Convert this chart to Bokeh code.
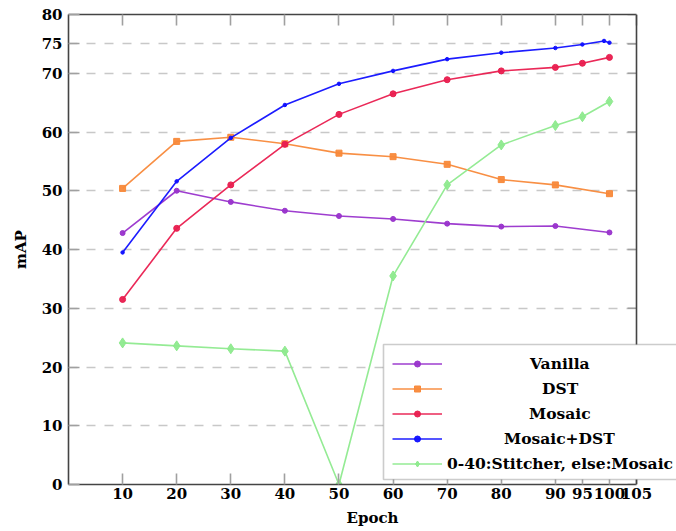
from bokeh.plotting import figure
from bokeh.models import (Range1d, FixedTicker, LinearAxis, Legend, LegendItem,
                          Span, BoxAnnotation, Title)
from bokeh.embed import file_html
from bokeh.resources import INLINE

# ---- data ----
vanilla_x = [10, 20, 30, 40, 50, 60, 70, 80, 90, 100]
vanilla_y = [42.8, 50.0, 48.1, 46.6, 45.7, 45.2, 44.4, 43.9, 44.0, 42.9]

dst_x = [10, 20, 30, 40, 50, 60, 70, 80, 90, 100]
dst_y = [50.4, 58.4, 59.1, 58.0, 56.4, 55.8, 54.5, 51.9, 51.0, 49.5]

mosaic_x = [10, 20, 30, 40, 50, 60, 70, 80, 90, 95, 100]
mosaic_y = [31.5, 43.6, 51.0, 57.9, 63.0, 66.5, 68.9, 70.4, 71.0, 71.7, 72.7]

mdst_x = [10, 20, 30, 40, 50, 60, 70, 80, 90, 95, 99, 100]
mdst_y = [39.5, 51.6, 59.0, 64.6, 68.2, 70.4, 72.4, 73.5, 74.3, 74.9, 75.5, 75.2]

stitch_x = [10, 20, 30, 40, 50, 60, 70, 80, 90, 95, 100]
stitch_y = [24.1, 23.6, 23.1, 22.7, 0.0, 35.5, 51.0, 57.8, 61.1, 62.6, 65.2]

x_ticks = [10, 20, 30, 40, 50, 60, 70, 80, 90, 95, 100, 105]
y_ticks = [0, 10, 20, 30, 40, 50, 60, 70, 75, 80]
X_MIN, X_MAX = 0, 105
Y_MIN, Y_MAX = 0, 80

# name, x, y, colour, marker, size, estimated label width (px)
series = [
    ("Vanilla", vanilla_x, vanilla_y, "#9933CC", "circle", 5, 60),
    ("DST", dst_x, dst_y, "#F8893A", "square", 6, 36),
    ("Mosaic", mosaic_x, mosaic_y, "#E91E4F", "circle", 6, 62),
    ("Mosaic+DST", mdst_x, mdst_y, "#1010FF", "circle", 3.5, 111),
    ("0-40:Stitcher, else:Mosaic", stitch_x, stitch_y, "#8EEA8E", "diamond", 10, 226),
]

FONT = "DejaVu Serif"
AXIS_COLOR = "#444444"
TICK_COLOR = "#a0a0a0"

# layout (pixels)
W, H = 676, 531
LEFT, TOP, BOTTOM = 68, 14, 47
AXIS_W = 568                    # pixel width of the 0..105 axis
FRAME_W = W - LEFT              # frame runs to the right edge (legend overhangs)
x_end = X_MAX * FRAME_W / AXIS_W
px_per_x = AXIS_W / (X_MAX - X_MIN)

p = figure(width=W, height=H, output_backend="svg", toolbar_location=None,
           x_range=Range1d(X_MIN, x_end), y_range=Range1d(Y_MIN, Y_MAX),
           min_border_left=LEFT, min_border_right=0, min_border_top=TOP,
           min_border_bottom=BOTTOM, outline_line_color=None)

p.xaxis.ticker = FixedTicker(ticks=x_ticks)
p.yaxis.ticker = FixedTicker(ticks=y_ticks)
p.xaxis.bounds = (X_MIN, X_MAX)
p.xgrid.visible = False
p.ygrid.ticker = FixedTicker(ticks=y_ticks)
p.ygrid.grid_line_color = "#c8c8c8"
p.ygrid.grid_line_width = 1.3
p.ygrid.grid_line_dash = "9 9"

for ax in (p.xaxis[0], p.yaxis[0]):
    ax.major_tick_out = 0
    ax.major_tick_in = 11
    ax.minor_tick_line_color = None
    ax.major_tick_line_color = TICK_COLOR
    ax.major_tick_line_width = 1.6
    ax.axis_line_color = AXIS_COLOR
    ax.axis_line_width = 1.6
    ax.major_label_text_font = FONT
    ax.major_label_text_font_style = "bold"
    ax.major_label_text_font_size = "15px"
    ax.major_label_text_color = "black"
    ax.major_label_standoff = 6
    ax.axis_label_text_font = FONT
    ax.axis_label_text_font_style = "bold"
    ax.axis_label_text_font_size = "15px"
    ax.axis_label_text_color = "black"

p.xaxis.major_label_standoff = 3
p.yaxis.axis_label = "mAP"
p.yaxis.axis_label_standoff = 9

# x-axis title centred under the 0..105 axis
p.add_layout(Title(text="Epoch", align="center",
                   offset=-(FRAME_W - AXIS_W) / 2,
                   text_font=FONT, text_font_style="bold",
                   text_font_size="15px", text_color="black"), "below")

# top border with inward ticks
top = LinearAxis(ticker=FixedTicker(ticks=x_ticks), bounds=(X_MIN, X_MAX))
top.major_tick_out = 0
top.major_tick_in = 11
top.minor_tick_line_color = None
top.major_tick_line_color = TICK_COLOR
top.major_tick_line_width = 1.6
top.axis_line_color = AXIS_COLOR
top.axis_line_width = 1.6
top.major_label_text_font_size = "1px"
top.major_label_text_color = None
top.major_label_text_alpha = 0
top.major_label_standoff = 0
p.add_layout(top, "above")

# hide grid beyond the right border
p.add_layout(BoxAnnotation(left=X_MAX, fill_color="white", fill_alpha=1.0,
                           line_alpha=0, level="underlay"))

# right border with inward ticks
p.add_layout(Span(location=X_MAX, dimension="height",
                  line_color=AXIS_COLOR, line_width=1.6))
tick_len = 9 / px_per_x
p.segment(x0=[X_MAX] * len(y_ticks), y0=y_ticks,
          x1=[X_MAX - tick_len] * len(y_ticks), y1=y_ticks,
          line_color=TICK_COLOR, line_width=1.6)

renderers = []
for name, xs, ys, color, marker, size, _ in series:
    ln = p.line(xs, ys, line_color=color, line_width=1.6, line_alpha=0.95)
    sc = p.scatter(xs, ys, marker=marker, size=size, fill_color=color,
                   line_color=color, fill_alpha=0.95)
    renderers.append((ln, sc))

# legend box (overhangs the right edge)
BOX_L, BOX_TOP, BOX_BOT = 383, 344, 479
p.add_layout(BoxAnnotation(left=BOX_L - LEFT, right=FRAME_W + 20,
                           bottom=(H - BOTTOM) - BOX_BOT,
                           top=(H - BOTTOM) - BOX_TOP,
                           left_units="screen", right_units="screen",
                           top_units="screen", bottom_units="screen",
                           fill_color="white", fill_alpha=1.0,
                           line_color="#555555", line_width=1.6))

GLYPH_X0, GLYPH_W = 392, 50
TEXT_CX = 560
ROW0, ROW_STEP = 362.5, 25
for i, ((name, *_rest), (ln, sc)) in enumerate(zip(series, renderers)):
    label_w = _rest[-1]
    yc = ROW0 + i * ROW_STEP
    vy = (H - BOTTOM) - yc - 10.5
    standoff = TEXT_CX - (GLYPH_X0 + GLYPH_W) - label_w / 2
    lg = Legend(items=[LegendItem(label=name, renderers=[ln, sc])],
                location=(GLYPH_X0 - LEFT, vy),
                glyph_width=GLYPH_W, glyph_height=15, label_height=15,
                label_standoff=int(round(standoff)),
                label_text_font=FONT, label_text_font_style="bold",
                label_text_font_size="15.5px", label_text_color="black",
                padding=0, margin=0, spacing=0,
                border_line_color=None, background_fill_alpha=0)
    p.add_layout(lg)

open("out.html", "w").write(file_html(p, INLINE))
